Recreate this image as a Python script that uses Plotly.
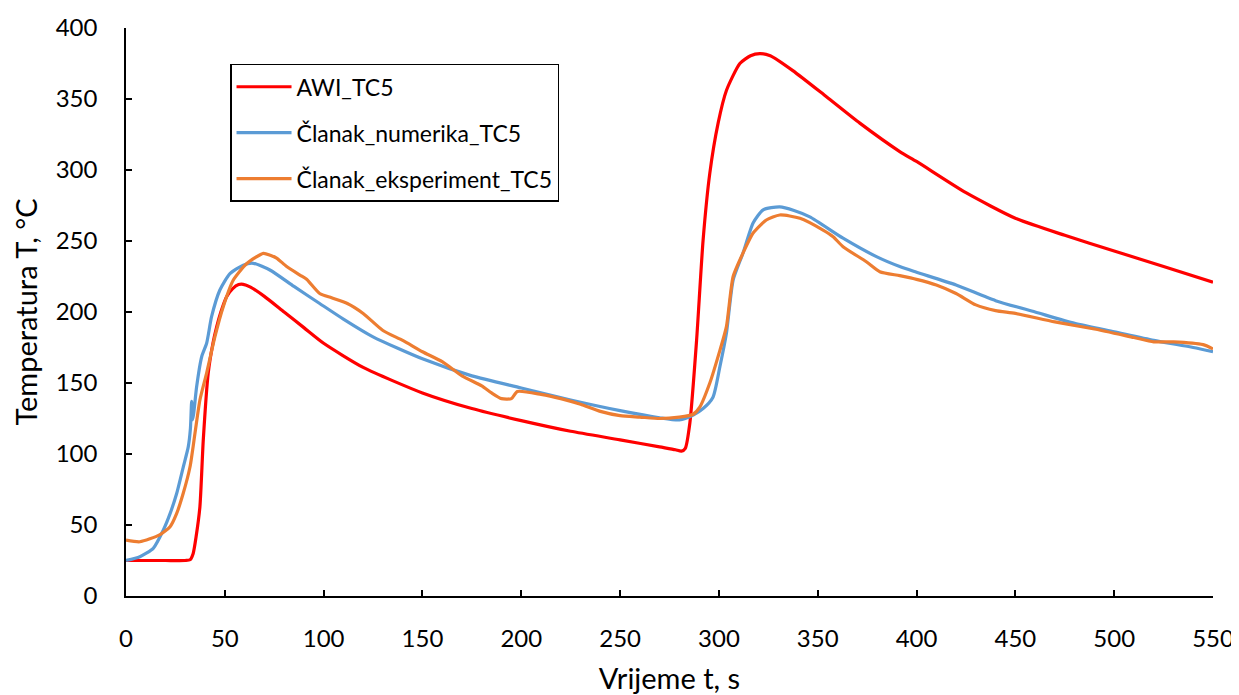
import plotly.graph_objects as go

# AWI_TC5
t_awi = [0, 10, 20, 30, 32.4, 34, 35.5, 37.4, 39.1, 41.6, 44, 45.9, 48, 50.9, 54, 57, 59.3, 63, 70, 80, 90, 100,
         120, 150, 175, 200, 225, 250, 270, 278, 281, 283, 285.3, 288.7, 292, 295.4, 299.6, 303.8, 310.6, 316, 320.7,
         326, 337.4, 354.4, 371.3, 391.5, 400, 425, 450, 475, 500, 525, 550]
T_awi = [25, 25, 25, 25, 25.5, 30, 42, 63, 110, 157, 178, 189.7, 200, 210.8, 216.5, 219.3, 219.5, 217.5, 211, 200, 189, 178,
         161, 143, 132, 123.5, 116, 110, 105, 103, 102, 104, 121.8, 180, 250.7, 297.8, 333, 356, 375, 380.5, 382,
         380.5, 370, 351.6, 333, 313, 306, 284, 266, 254, 243, 232, 221]

# Članak_numerika_TC5
t_num = [0, 7, 13.8, 18.9, 22.3, 25.6, 29, 31.5, 32.6, 33.2, 33.6, 34.2, 35.7, 38.3, 40.8, 43.3, 47.5, 52.6, 59.3,
         64.4, 72.8, 85, 98, 110, 125, 150, 175, 200, 225, 250, 270, 280, 287, 292, 297, 300.5, 303.8, 307.2,
         312.2, 317.3, 322.4, 330.8, 338, 346, 362.8, 379.7, 391.5, 400, 420, 440, 460, 480, 500, 520, 540, 550]
T_num = [25, 27.7, 33.6, 46.5, 58, 72, 91, 105, 118, 137, 124, 128, 147, 168.5, 178, 196.7, 215.5, 227, 233,
         234.3, 229.6, 218, 206, 195, 182.5, 167, 155, 146.5, 138, 130.5, 125.5, 124, 127.5, 132, 140, 161.5, 185,
         222.5, 241.5, 262.7, 272, 274, 271.5, 267, 252, 239, 232, 228, 219, 208, 200, 192, 186, 180, 175, 172]

# Članak_eksperiment_TC5
t_exp = [0, 7, 17, 22.3, 25.6, 29, 32.4, 34.9, 37.4, 40.8, 45, 49.2, 54.3, 61, 69.5, 73, 76.2, 81.3, 88, 91.4,
         98, 104, 112, 120, 130, 140, 150, 160, 170, 180, 185, 190, 195, 198, 210, 220, 230, 240, 250, 260,
         270, 280, 287, 290.3, 295.4, 300.5, 303.8, 307.2, 312.2, 317.3, 324, 330.8, 341, 352.7, 357.8, 362.8,
         374.6, 381.4, 391.5, 400, 410, 420, 430, 440, 450, 470, 490, 510, 520, 530, 545, 550]
T_exp = [39.4, 38.2, 43, 48.8, 58, 72.5, 91, 114.6, 138, 157, 182.6, 203.7, 222.5, 234, 241.3, 240, 238, 232, 226, 223,
         213, 210, 206, 199, 187, 180, 172, 165, 155, 148, 143, 139, 139, 144, 142, 139, 135, 130, 127, 126,
         125, 126, 128, 133, 150, 173, 189.7, 225, 241.5, 255.6, 264.8, 268.3, 266, 257.7, 253, 246,
         235.4, 228.4, 225.6, 223, 219, 213, 205, 201, 199, 193, 188, 182, 179, 179, 177, 174]

x_ticks = [0, 50, 100, 150, 200, 250, 300, 350, 400, 450, 500, 550]
y_ticks = [0, 50, 100, 150, 200, 250, 300, 350, 400]

FONT = "Lato"

fig = go.Figure()
fig.add_trace(go.Scatter(x=t_awi, y=T_awi, mode="lines", name="AWI_TC5", legendgroup="a",
                         line=dict(color="#FF0000", width=3.2, shape="spline", smoothing=0.6)))
fig.add_trace(go.Scatter(x=t_num, y=T_num, mode="lines", name="Članak_numerika_TC5", legendgroup="b",
                         line=dict(color="#5B9BD5", width=3.2, shape="spline", smoothing=0.6)))
fig.add_trace(go.Scatter(x=t_exp, y=T_exp, mode="lines", name="Članak_eksperiment_TC5", legendgroup="c",
                         line=dict(color="#ED7D31", width=3.2, shape="spline", smoothing=0.6)))

fig.update_layout(
    width=1231, height=687,
    margin=dict(l=118, r=26, t=20, b=99, autoexpand=False),
    plot_bgcolor="white", paper_bgcolor="white",
    font=dict(family=FONT, color="black", size=24),
    showlegend=True,
    legend=dict(x=0.0957, y=0.937, xanchor="left", yanchor="top",
                bordercolor="black", borderwidth=1.5, bgcolor="white",
                font=dict(family=FONT, size=23, color="black"),
                tracegroupgap=13, itemwidth=55),
    xaxis=dict(range=[0, 550], tickvals=x_ticks, ticks="inside", ticklen=6, tickwidth=1.5,
               tickcolor="black", showline=True, linecolor="black", linewidth=1.5,
               showgrid=False, zeroline=False, ticklabelstandoff=20, automargin=False,
               title=dict(text="Vrijeme t, s", font=dict(size=29), standoff=18),
               tickfont=dict(size=24)),
    yaxis=dict(range=[0, 400], tickvals=y_ticks, ticks="inside", ticklen=6, tickwidth=1.5,
               tickcolor="black", showline=True, linecolor="black", linewidth=1.5,
               showgrid=False, zeroline=False, ticklabelstandoff=22, automargin=False,
               title=dict(text="Temperatura T, °C", font=dict(size=29), standoff=12),
               tickfont=dict(size=24)),
)

fig.write_html("out.html")
